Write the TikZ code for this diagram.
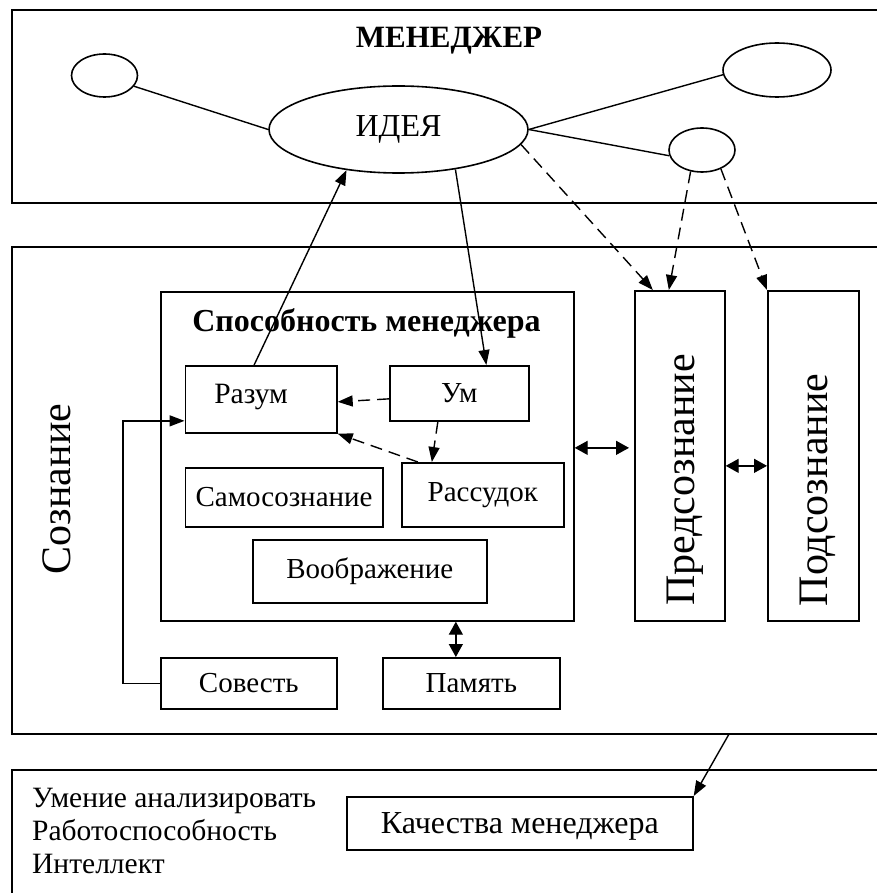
\documentclass[tikz,border=0pt]{standalone}
\usepackage{fontspec}
\setmainfont{Liberation Serif}
\usetikzlibrary{arrows.meta,shapes.geometric,calc}

\tikzset{
  box/.style={draw, line width=1.7pt, inner sep=0pt, anchor=north west,
              font=\fontsize{29}{33}\selectfont},
  oval/.style={draw, ellipse, line width=1.6pt, inner sep=0pt},
  ln/.style={line width=1.4pt},
  arr/.style={ln, -{Triangle[length=15pt,width=11pt]}},
  darr/.style={arr, dash pattern=on 12pt off 7pt},
  dbl/.style={ln, {Triangle[length=13pt,width=14pt]}-{Triangle[length=13pt,width=14pt]}},
  lbl/.style={font=\fontsize{29.5}{33}\selectfont, inner sep=0pt},
  ttl/.style={font=\bfseries\fontsize{31}{34}\selectfont, inner sep=0pt},
  big/.style={font=\fontsize{42}{48}\selectfont, inner sep=0pt, rotate=90},
}

\begin{document}
\begin{tikzpicture}[x=1pt, y=-1pt]
\useasboundingbox (0,0) rectangle (876,893);

% three horizontal bands (open to the right)
\node[box, minimum width=890pt, minimum height=193pt] (mgrbox) at (11,9) {};
\node[box, line width=1.5pt, minimum width=890pt, minimum height=487pt] (soz) at (11,246) {};
\node[box, line width=1.5pt, minimum width=890pt, minimum height=150pt] (qual) at (11,769) {};

% manager band
\node[ttl, anchor=base] (mgr) at (449,48) {МЕНЕДЖЕР};
\node[oval, minimum width=66pt, minimum height=43pt] (lsmall) at (104.5,75.5) {};
\node[oval, minimum width=259pt, minimum height=87pt, font=\fontsize{32}{36}\selectfont] (idea) at (398.5,129.5) {ИДЕЯ};
\node[oval, minimum width=108pt, minimum height=54pt] (rtop) at (777,70) {};
\node[oval, minimum width=66pt, minimum height=44pt] (rsmall) at (702,150) {};

\draw[ln] (lsmall.-20) -- (idea.west);
\draw[ln] (idea.east) -- (rtop.185);
\draw[ln] (idea.east) -- (rsmall.190);

% consciousness band
\node[big] (soztxt) at (57,489) {Сознание};

\node[box, minimum width=413pt, minimum height=329pt] (sposob) at (160,291) {};
\node[ttl, font=\bfseries\fontsize{32}{36}\selectfont, anchor=base] (sposobttl) at (366.5,331.5) {Способность менеджера};

\node[box, minimum width=151.5pt, minimum height=67pt,
      label={[lbl, xshift=-10pt, yshift=2pt]center:Разум}] (razum) at (184.5,365) {};
\node[box, minimum width=139pt, minimum height=55pt] (um) at (389,365) {Ум};
\node[box, minimum width=162pt, minimum height=64pt] (rassudok) at (401,462) {Рассудок};
\node[box, minimum width=197.5pt, minimum height=59pt] (samosozn) at (184.5,467) {Самосознание};
\node[box, minimum width=234pt, minimum height=63pt] (voobr) at (252,539) {Воображение};

\node[box, minimum width=176pt, minimum height=51pt] (sovest) at (160,657) {Совесть};
\node[box, minimum width=177pt, minimum height=51pt] (pamyat) at (382,657) {Память};

\node[box, minimum width=90pt, minimum height=330pt] (predsozn) at (634,290) {};
\node[big] (predtxt) at (685,480) {Предсознание};
\node[box, minimum width=91pt, minimum height=330pt] (podsozn) at (767,290) {};
\node[big] (podtxt) at (818,490) {Подсознание};

% qualities band
\node[lbl, anchor=base west, align=left] (list) at (32,873)
  {Умение анализировать\\Работоспособность\\Интеллект};
\node[box, minimum width=346pt, minimum height=53pt, font=\fontsize{32}{36}\selectfont,
      text height=22pt, text depth=2pt] (kach) at (346,796) {Качества менеджера};

% connectors between the idea and the abilities
\draw[arr] ([xshift=-7pt]razum.north) -- (idea.218);
\draw[arr] (idea.325) -- ([xshift=27pt]um.north);
\draw[darr] ([yshift=-5.5pt]um.west) -- ([yshift=-2.5pt]razum.east);
\draw[darr] ([xshift=-21.5pt]um.south) -- ([xshift=-51pt]rassudok.north);
\draw[darr] ([xshift=-65pt]rassudok.north) -- (razum.south east);

% conscience feeds reason
\draw[arr] (sovest.west) -- ++(-37,0) |- ($(razum.west)+(0,21.5)$);

% exchanges between the levels
\draw[dbl, shorten >=5pt] ([yshift=8.5pt]sposob.east) -- ([yshift=8.5pt]sposob.east -| predsozn.west);
\draw[dbl] ([yshift=-10pt]predsozn.east) -- ([yshift=-10pt]predsozn.east -| podsozn.west);
\draw[dbl] ([xshift=-15.5pt]pamyat.north) -- ([xshift=-15.5pt]pamyat.north |- sposob.south);

% dashed links from the idea to the lower levels
\draw[darr] (idea.353) -- ([xshift=-27pt]predsozn.north);
\draw[darr] (rsmall.242) -- ([xshift=-11pt]predsozn.north);
\draw[darr] (rsmall.315) -- (podsozn.north west);

% consciousness shapes the manager's qualities
\draw[arr] ([xshift=272pt]soz.south) -- (kach.north east);
\end{tikzpicture}
\end{document}
